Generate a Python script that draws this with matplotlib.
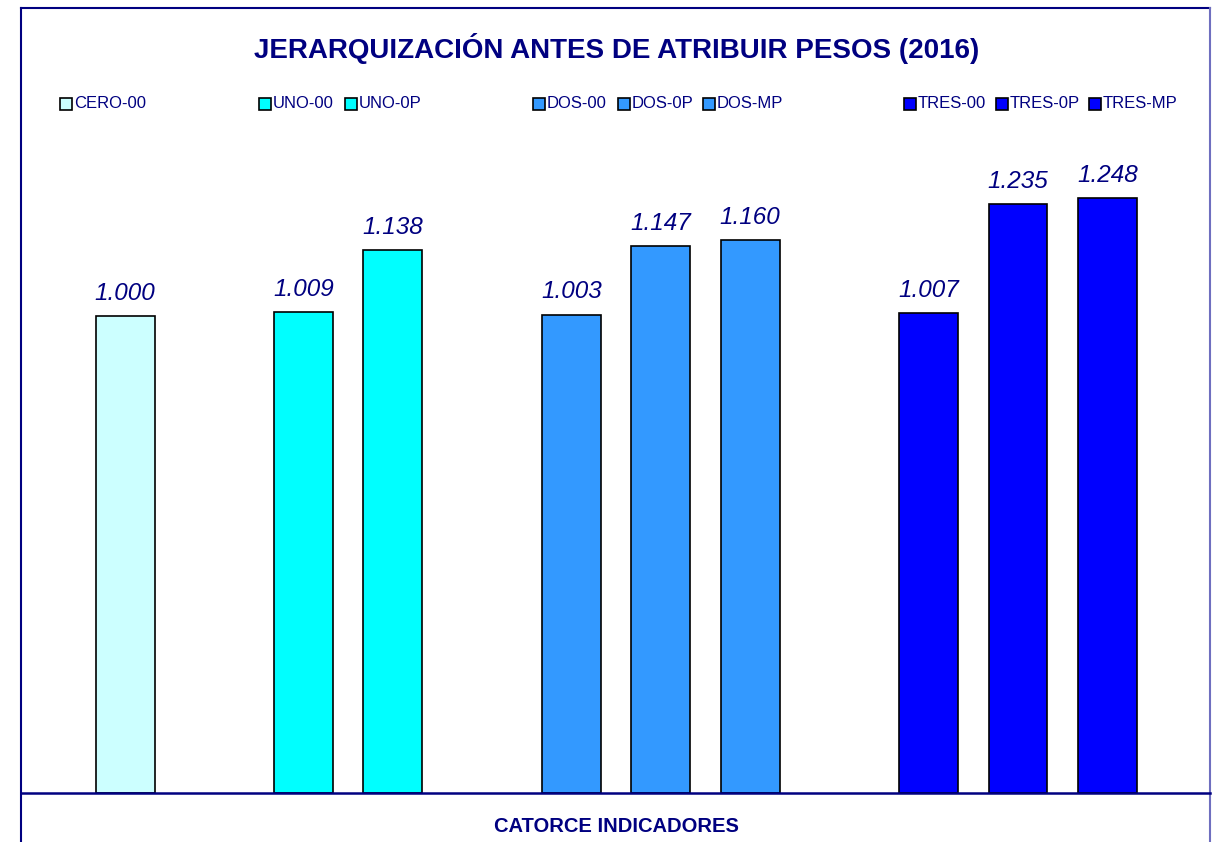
import matplotlib
matplotlib.use("Agg")
import matplotlib.pyplot as plt
from matplotlib.patches import Rectangle
from matplotlib.lines import Line2D

plt.rcParams['font.family'] = ['Liberation Sans', 'DejaVu Sans']

# data
labels = ["CERO-00", "UNO-00", "UNO-0P", "DOS-00", "DOS-0P", "DOS-MP",
          "TRES-00", "TRES-0P", "TRES-MP"]
values = [1.000, 1.009, 1.138, 1.003, 1.147, 1.160, 1.007, 1.235, 1.248]
slots = [0, 2, 3, 5, 6, 7, 9, 10, 11]
colors = ["#CCFFFF", "#00FFFF", "#00FFFF", "#3399FF", "#3399FF", "#3399FF",
          "#0000FF", "#0000FF", "#0000FF"]

navy = "#000080"

W, H = 1220, 842
fig = plt.figure(figsize=(W / 100, H / 100), dpi=100)

def fx(px):
    return px / W

def fy(py):
    return 1 - py / H

# plot area
ax = fig.add_axes([fx(21), fy(793), fx(1210) - fx(21), fy(150) - fy(793)])
ax.bar(slots, values, width=0.66, color=colors, edgecolor="black", linewidth=1.2, zorder=2)
for s, v in zip(slots, values):
    ax.annotate(f"{v:.3f}", (s, v), xytext=(0, 8), textcoords="offset points",
                ha="center", va="bottom", fontsize=17.5, style="italic", color=navy)
ax.set_xlim(-1.165, 12.15)
ax.set_ylim(0, 643 / 477)
ax.set_xticks([])
ax.set_yticks([])
for sp in ax.spines.values():
    sp.set_visible(False)
ax.patch.set_alpha(0)

# frame and divider lines
fig.add_artist(Line2D([fx(21), fx(21)], [fy(8), 0], color=navy, lw=1.5))
fig.add_artist(Line2D([fx(21), fx(1210)], [fy(8), fy(8)], color=navy, lw=1.5))
fig.add_artist(Line2D([fx(1210), fx(1210)], [fy(8), 0], color="#6F6FBF", lw=1.5))
fig.add_artist(Line2D([fx(21), fx(1210)], [fy(793), fy(793)], color=navy, lw=1.8))

fig.text(fx(617), fy(49), "JERARQUIZACIÓN ANTES DE ATRIBUIR PESOS (2016)",
         ha="center", va="center", fontsize=20, fontweight="bold", color=navy)
fig.text(fx(616), fy(827), "CATORCE INDICADORES", ha="center", va="center",
         fontsize=14.5, fontweight="bold", color=navy)

# legend entries
legend_x = [60, 259, 345, 533, 618, 703, 904, 996, 1089]
for lx, lab, c in zip(legend_x, labels, colors):
    fig.add_artist(Rectangle((fx(lx), fy(110)), fx(12), fy(98) - fy(110),
                             facecolor=c, edgecolor="black", lw=1.2))
    fig.text(fx(lx + 14), fy(104), lab, ha="left", va="center",
             fontsize=12, color=navy)

fig.savefig("out.png", dpi=100)
